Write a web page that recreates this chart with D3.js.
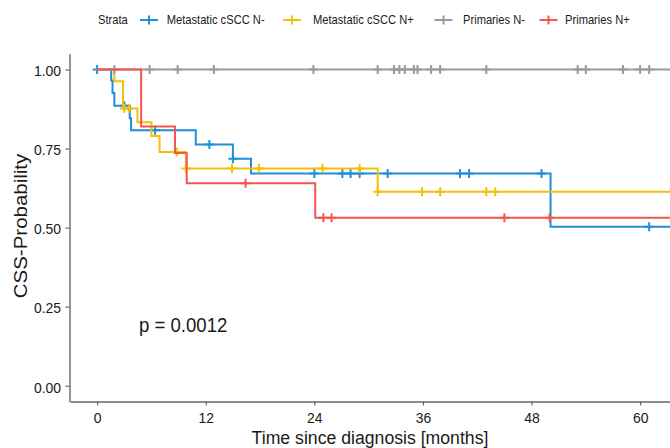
<!DOCTYPE html>
<html>
<head>
<meta charset="utf-8">
<script src="https://cdn.jsdelivr.net/npm/d3@7"></script>
<style>
  body { margin: 0; background: #fff; }
  text { font-family: "Liberation Sans", Arial, sans-serif; }
</style>
</head>
<body>
<script>
// strata and their colours
const strata = ["Metastatic cSCC N-", "Metastatic cSCC N+", "Primaries N-", "Primaries N+"];
const colors = ["#1f8fd8", "#f3bf0c", "#9a9a9a", "#f4564e"];

// step times (months) and survival after each step
const metNegTimes = [1.55, 1.7, 1.9, 3.6, 3.75, 10.9, 15.0, 17.0, 50.1, 64];
const metNegSurv  = [0.965, 0.926, 0.885, 0.846, 0.808, 0.763, 0.718, 0.671, 0.503, 0.503];
const metNegCensor = [0, 3.0, 6.4, 12.4, 15.0, 24.0, 27.1, 28.0, 29.0, 32.1, 40.1, 41.1, 49.1, 61.0];

const metPosTimes = [1.9, 2.85, 4.45, 6.0, 6.9, 9.8, 31.0, 64];
const metPosSurv  = [0.963, 0.877, 0.833, 0.79, 0.739, 0.687, 0.613, 0.613];
const metPosCensor = [3.0, 3.5, 8.8, 9.8, 14.9, 17.9, 24.9, 29.0, 31.0, 35.9, 37.9, 43.0, 44.0];

const priNegTimes = [64];
const priNegSurv  = [1.0];
const priNegCensor = [1.9, 5.8, 8.9, 12.9, 23.9, 31.0, 32.8, 33.4, 34.0, 35.0, 35.4, 36.9, 37.9,
                      43.0, 53.1, 54.0, 58.1, 60.0, 61.0];

const priPosTimes = [4.86, 8.6, 9.9, 24.1, 64];
const priPosSurv  = [0.82, 0.736, 0.64, 0.531, 0.531];
const priPosCensor = [16.4, 25.0, 25.9, 45.0, 50.0];

const xTicks = [0, 12, 24, 36, 48, 60];
const yTicks = [0, 0.25, 0.5, 0.75, 1];
const pValue = "p = 0.0012";

const series = [
    {times: metNegTimes, surv: metNegSurv, censor: metNegCensor},
    {times: metPosTimes, surv: metPosSurv, censor: metPosCensor},
    {times: priNegTimes, surv: priNegSurv, censor: priNegCensor},
    {times: priPosTimes, surv: priPosSurv, censor: priPosCensor}
];

const W = 670, H = 448;
const SQ = 0.93; // horizontal squeeze of the text, as in the picture

const svg = d3.select("body").append("svg")
    .attr("width", W)
    .attr("height", H);

const x = d3.scaleLinear().domain([-3, 63.3]).range([70, 670]);
const y = d3.scaleLinear().domain([-0.05, 1.05]).range([401.5, 53.7]);

svg.append("defs").append("clipPath")
    .attr("id", "panel")
    .append("rect")
    .attr("x", 70).attr("y", 45)
    .attr("width", 600).attr("height", 360);

function survAt(s, t) {
    let v = 1;
    s.times.forEach((tt, i) => { if (tt <= t) v = s.surv[i]; });
    return v;
}

const line = d3.line()
    .x(d => x(d[0]))
    .y(d => y(d[1]))
    .curve(d3.curveStepAfter);

const plot = svg.append("g").attr("clip-path", "url(#panel)");

series.forEach((s, i) => {
    const pts = [[0, 1]].concat(s.times.map((t, j) => [t, s.surv[j]]));
    const g = plot.append("g");
    g.append("path")
        .attr("d", line(pts))
        .attr("fill", "none")
        .attr("stroke", colors[i])
        .attr("stroke-width", 2);

    g.selectAll(".cens")
        .data(s.censor)
        .enter().append("path")
        .attr("class", "cens")
        .attr("transform", t => `translate(${x(t)},${y(survAt(s, t))})`)
        .attr("d", "M-4.5,0H4.5M0,-4.5V4.5")
        .attr("stroke", colors[i])
        .attr("stroke-width", 2);
});

// axes
const axisColor = "#666";
const textColor = "#1a1a1a";

const yAxis = svg.append("g")
    .attr("transform", "translate(69.5,0)")
    .call(d3.axisLeft(y).tickValues(yTicks).tickFormat(d3.format(".2f"))
        .tickSize(4).tickSizeOuter(0).tickPadding(5));

const xAxis = svg.append("g")
    .attr("transform", "translate(0,401.5)")
    .call(d3.axisBottom(x).tickValues(xTicks).tickSize(4).tickSizeOuter(0).tickPadding(6.5));

[yAxis, xAxis].forEach(a => {
    a.select(".domain").attr("stroke", axisColor).attr("stroke-width", 1.4);
    a.selectAll(".tick line").attr("stroke", axisColor).attr("stroke-width", 1.2);
    a.selectAll(".tick text")
        .attr("fill", textColor)
        .style("font-size", "15px")
        .style("font-family", "'Liberation Sans', Arial, sans-serif");
});
yAxis.selectAll(".tick text").attr("dy", "0.42em").attr("transform", `scale(${SQ},1)`);
xAxis.selectAll(".tick text").attr("transform", `scale(${SQ},1)`);

function label(txt, px, py, size, anchor, rot) {
    // rotated text is squeezed across its glyphs, not along its length
    const sc = rot ? `scale(1,${SQ})` : `scale(${SQ},1)`;
    return svg.append("text")
        .attr("transform", `translate(${px},${py})` + (rot ? ` rotate(${rot})` : "") + " " + sc)
        .attr("text-anchor", anchor)
        .attr("fill", textColor)
        .style("font-size", size + "px")
        .text(txt);
}

label("Time since diagnosis [months]", 370, 444, 19, "middle");
label("CSS-Probability", 27, 226, 20.5, "middle", -90);
label(pValue, 139, 332, 20, "start");

// legend
const legendY = 20;
label("Strata", 98, legendY + 4.3, 12, "start");
const keyX = [149, 292, 443.5, 548.5];
const textX = [166.7, 313, 463, 565];
strata.forEach((name, i) => {
    svg.append("path")
        .attr("transform", `translate(${keyX[i]},${legendY})`)
        .attr("d", "M-9,0H9M0,-4.5V4.5")
        .attr("stroke", colors[i])
        .attr("stroke-width", 2);
    label(name, textX[i], legendY + 4.3, 12, "start");
});
</script>
</body>
</html>
